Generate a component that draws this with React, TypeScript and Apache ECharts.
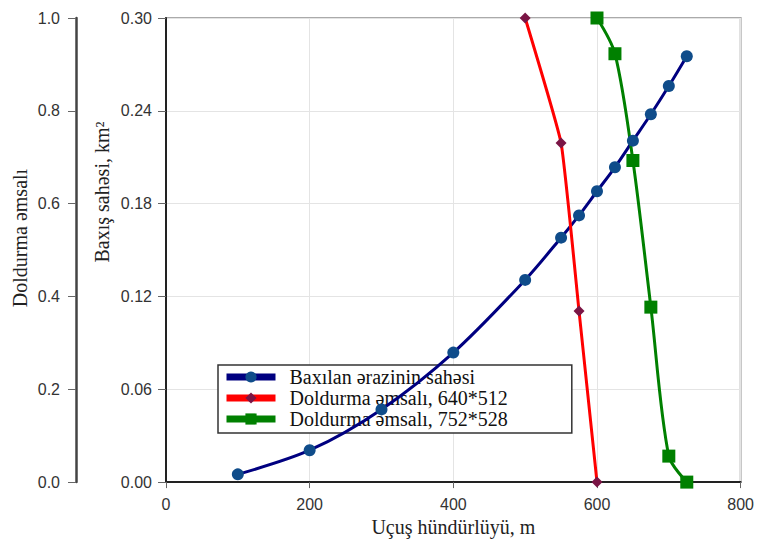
import React, { useEffect, useRef } from "react";
import * as echarts from "echarts";

const xTicks = { min: 0, max: 800, interval: 200 };
const areaAxis = { min: 0, max: 0.3, interval: 0.06 };
const coefAxis = { min: 0, max: 1, interval: 0.2 };

const areaX = [100, 200, 300, 400, 500, 550, 575, 600, 625, 650, 675, 700, 725];
const areaY = [0.005, 0.0206, 0.047, 0.0837, 0.1307, 0.158, 0.1724, 0.188, 0.2035, 0.2207, 0.2378, 0.256, 0.2753];

const red640X = [500, 550, 575, 600];
const red640Y = [1.0, 0.7305, 0.3685, 0.0];

const green752X = [600, 625, 650, 675, 700, 725];
const green752Y = [1.0, 0.923, 0.693, 0.377, 0.056, 0.0];

const seriesNames = [
  "Baxılan ərazinin sahəsi",
  "Doldurma əmsalı, 640*512",
  "Doldurma əmsalı, 752*528",
];
const xTitle = "Uçuş hündürlüyü, m";
const areaTitle = "Baxış sahəsi, km²";
const coefTitle = "Doldurma əmsalı";

const SERIF = "Liberation Serif";
const SANS = "Liberation Sans";

const zip = (xs: number[], ys: number[]) => xs.map((x, i) => [x, ys[i]]);

export default function App() {
  const ref = useRef<HTMLDivElement>(null);
  useEffect(() => {
    if (!ref.current) return;
    const chart = echarts.init(ref.current, null, { renderer: "svg" });
    const labelStyle = { color: "#333", fontSize: 16, fontFamily: SANS };
    chart.setOption({
      animation: false,
      backgroundColor: "#fff",
      grid: {
        left: 166,
        right: 15,
        top: 18,
        bottom: 58,
        show: true,
        borderColor: "#aaa",
        borderWidth: 2,
      },
      xAxis: {
        type: "value",
        ...xTicks,
        axisLine: { show: true, lineStyle: { color: "#222", width: 2 } },
        axisTick: { show: true, length: 6, lineStyle: { color: "#666" } },
        axisLabel: { ...labelStyle, margin: 14 },
        splitLine: { show: true, lineStyle: { color: "#e4e4e4", width: 1 } },
        name: xTitle,
        nameLocation: "middle",
        nameGap: 33,
        nameTextStyle: { fontFamily: SERIF, fontSize: 20, color: "#222" },
      },
      yAxis: [
        {
          type: "value",
          position: "left",
          ...areaAxis,
          axisLine: { show: true, lineStyle: { color: "#222", width: 2 } },
          axisTick: { show: true, length: 8, lineStyle: { color: "#666" } },
          axisLabel: {
            ...labelStyle,
            margin: 14,
            formatter: (v: number) => v.toFixed(2),
          },
          splitLine: { show: true, lineStyle: { color: "#e4e4e4", width: 1 } },
        },
        {
          type: "value",
          position: "left",
          offset: 90,
          ...coefAxis,
          axisLine: { show: true, lineStyle: { color: "#444", width: 2.5 } },
          axisTick: { show: true, length: 8, lineStyle: { color: "#666" } },
          axisLabel: {
            ...labelStyle,
            margin: 16,
            formatter: (v: number) => v.toFixed(1),
          },
          splitLine: { show: false },
        },
      ],
      legend: {
        orient: "vertical",
        left: 218,
        top: 365,
        z: 1,
        itemWidth: 49,
        itemHeight: 14,
        itemGap: 1,
        padding: [2, 64, 4, 5],
        backgroundColor: "#fff",
        borderColor: "#333",
        borderWidth: 1.5,
        borderRadius: 0,
        lineStyle: { width: 7 },
        textStyle: {
          fontFamily: SERIF,
          fontSize: 20,
          lineHeight: 20,
          color: "#111",
          padding: [0, 0, 0, 9],
        },
        data: seriesNames,
      },
      graphic: [
        {
          type: "text",
          x: 20,
          y: 238,
          rotation: Math.PI / 2,
          style: {
            text: coefTitle,
            fontFamily: SERIF,
            fontSize: 20,
            fill: "#222",
            textAlign: "center",
            textVerticalAlign: "middle",
          },
        },
        {
          type: "text",
          x: 102,
          y: 192,
          rotation: Math.PI / 2,
          style: {
            text: areaTitle,
            fontFamily: SERIF,
            fontSize: 20,
            fill: "#222",
            textAlign: "center",
            textVerticalAlign: "middle",
          },
        },
      ],
      series: [
        {
          name: seriesNames[0],
          type: "line",
          yAxisIndex: 0,
          z: 5,
          data: zip(areaX, areaY),
          smooth: 0.3,
          symbol: "circle",
          symbolSize: 12,
          itemStyle: { color: "#0f4c8a" },
          lineStyle: { color: "#000080", width: 3 },
        },
        {
          name: seriesNames[1],
          type: "line",
          yAxisIndex: 1,
          z: 5,
          data: zip(red640X, red640Y),
          smooth: 0.12,
          symbol: "diamond",
          symbolSize: 11,
          itemStyle: { color: "#7a1545" },
          lineStyle: { color: "#ff0000", width: 3 },
        },
        {
          name: seriesNames[2],
          type: "line",
          yAxisIndex: 1,
          z: 5,
          data: zip(green752X, green752Y),
          smooth: 0.3,
          symbol: "rect",
          symbolSize: 13,
          itemStyle: { color: "#008000" },
          lineStyle: { color: "#008000", width: 3 },
        },
      ],
    });
    return () => chart.dispose();
  }, []);
  return (
    <div
      ref={ref}
      style={{ position: "fixed", left: 0, top: 0, width: 757, height: 542 }}
    />
  );
}
